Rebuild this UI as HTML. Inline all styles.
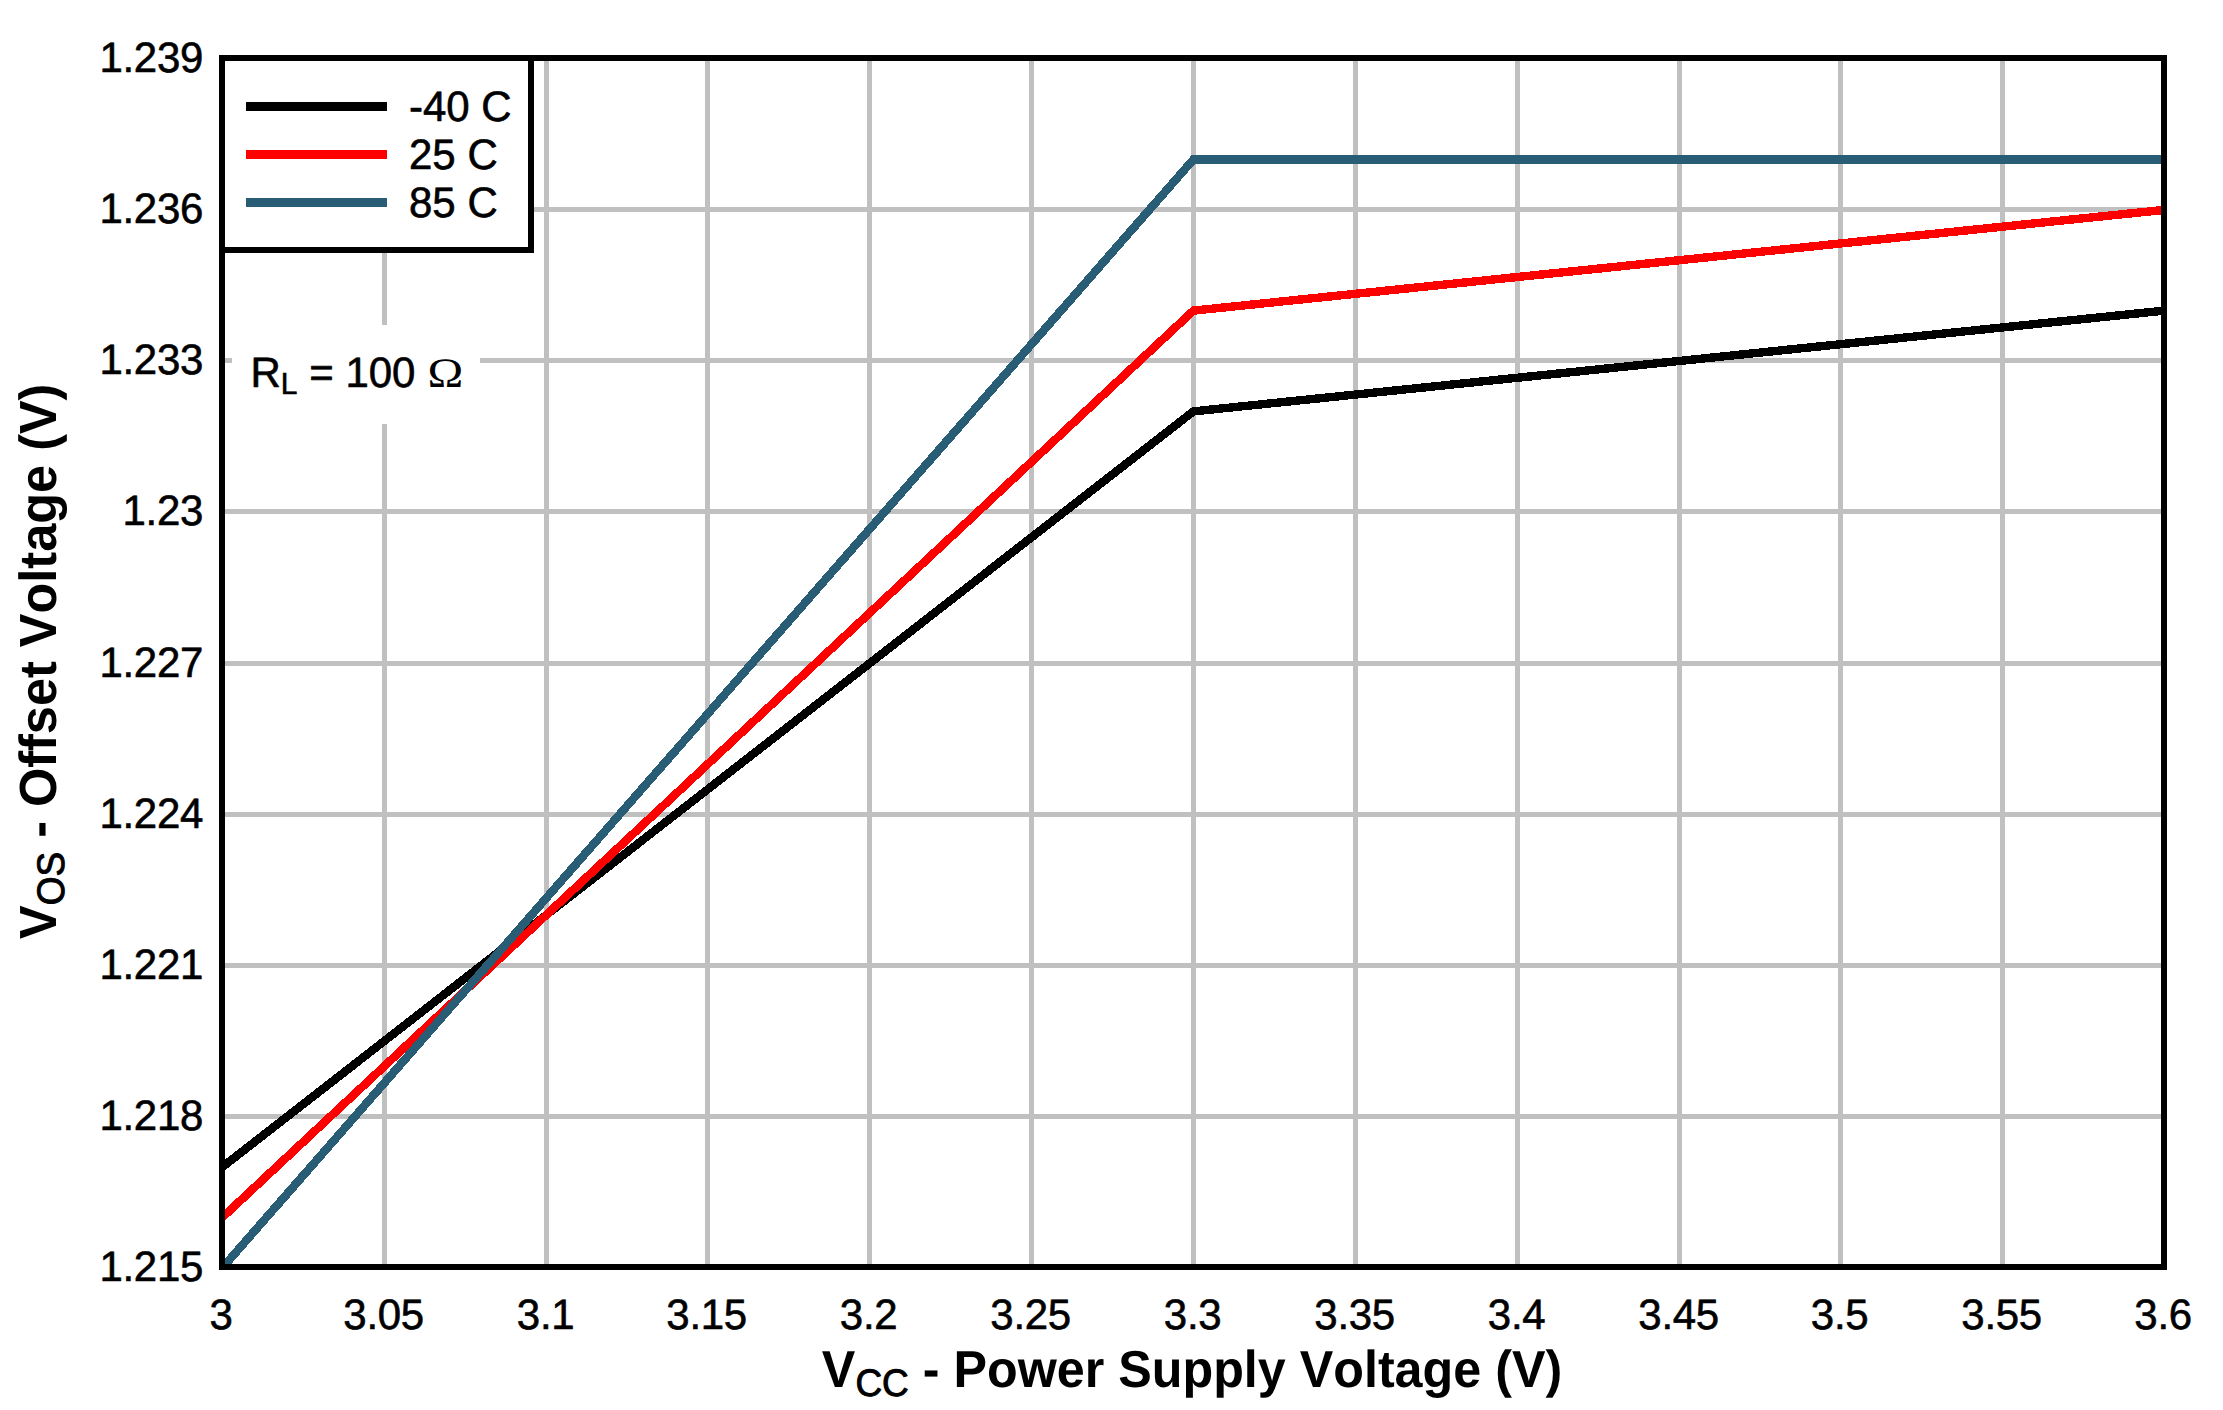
<!DOCTYPE html>
<html lang="en">
<head>
<meta charset="utf-8">
<title>VOS - Offset Voltage vs VCC - Power Supply Voltage</title>
<style>
html,body{margin:0;padding:0;background:#fff;}
body{width:2223px;height:1410px;overflow:hidden;}
svg{display:block;}
text{font-kerning:none;text-rendering:geometricPrecision;font-family:"Liberation Sans",sans-serif;fill:#000;}
.t{font-size:42px;stroke:#000;stroke-width:0.6px;stroke-linejoin:round;}
.b{font-size:50.25px;font-weight:bold;}
.sb{font-size:37px;font-weight:normal;stroke:#000;stroke-width:0.9px;stroke-linejoin:round;}
.k{letter-spacing:-0.3px;}
.by{font-size:50.48px;}
.ss{font-size:30px;}
.om{font-family:"Liberation Serif",serif;font-size:43px;stroke:none;}
</style>
</head>
<body>
<svg width="2223" height="1410" viewBox="0 0 2223 1410">
<rect x="0" y="0" width="2223" height="1410" fill="#ffffff"/>
<defs><clipPath id="plotclip"><rect x="225" y="61" width="1936" height="1203"/></clipPath></defs>
<g fill="#c0c0c0" shape-rendering="crispEdges">
<rect x="382" y="61" width="5" height="1203"/>
<rect x="544" y="61" width="5" height="1203"/>
<rect x="705" y="61" width="5" height="1203"/>
<rect x="867" y="61" width="5" height="1203"/>
<rect x="1029" y="61" width="5" height="1203"/>
<rect x="1191" y="61" width="5" height="1203"/>
<rect x="1353" y="61" width="5" height="1203"/>
<rect x="1515" y="61" width="5" height="1203"/>
<rect x="1677" y="61" width="5" height="1203"/>
<rect x="1838" y="61" width="5" height="1203"/>
<rect x="2000" y="61" width="5" height="1203"/>
<rect x="225" y="207" width="1936" height="5"/>
<rect x="225" y="358" width="1936" height="5"/>
<rect x="225" y="509" width="1936" height="5"/>
<rect x="225" y="661" width="1936" height="5"/>
<rect x="225" y="812" width="1936" height="5"/>
<rect x="225" y="963" width="1936" height="5"/>
<rect x="225" y="1114" width="1936" height="5"/>
</g>
<rect x="232" y="325" width="248" height="99" fill="#ffffff" shape-rendering="crispEdges"/>
<g clip-path="url(#plotclip)">
<polyline points="222.40,1167.00 1193.40,411.38 2164.40,310.63" fill="none" stroke="#000000" stroke-width="8.4" stroke-linejoin="miter" stroke-linecap="butt" shape-rendering="crispEdges"/>
<polyline points="222.40,1217.38 1193.40,310.63 2164.40,209.88" fill="none" stroke="#ff0000" stroke-width="8.4" stroke-linejoin="miter" stroke-linecap="butt" shape-rendering="crispEdges"/>
<polyline points="222.40,1267.75 1193.40,159.50 2164.40,159.50" fill="none" stroke="#295c75" stroke-width="8.4" stroke-linejoin="miter" stroke-linecap="butt" shape-rendering="crispEdges"/>
</g>
<rect x="222" y="58" width="1942" height="1209" fill="none" stroke="#000" stroke-width="6" shape-rendering="crispEdges"/>
<rect x="222" y="58" width="309" height="192" fill="#ffffff" stroke="#000" stroke-width="6" shape-rendering="crispEdges"/>
<g shape-rendering="crispEdges">
<rect x="246" y="102" width="141" height="9" fill="#000000"/>
<rect x="246" y="150" width="141" height="9" fill="#ff0000"/>
<rect x="246" y="198" width="141" height="9" fill="#295c75"/>
</g>
<text class="t" transform="translate(409.00,121.00) scale(1,1.014)">-40 C</text>
<text class="t" transform="translate(409.00,169.00) scale(1,1.014)">25 C</text>
<text class="t" transform="translate(409.00,217.00) scale(1,1.014)">85 C</text>
<text class="t" transform="translate(250.50,387.00) scale(1,1.014)">R<tspan class="ss" dy="6.7">L</tspan><tspan dy="-6.7"> = 100</tspan></text>
<text class="om" transform="translate(427.6,387) scale(1.12,0.975)">Ω</text>
<text class="t k" text-anchor="end" transform="translate(203.00,71.80) scale(1,1.014)">1.239</text>
<text class="t k" text-anchor="end" transform="translate(203.00,223.30) scale(1,1.014)">1.236</text>
<text class="t k" text-anchor="end" transform="translate(203.00,374.30) scale(1,1.014)">1.233</text>
<text class="t k" text-anchor="end" transform="translate(203.00,525.30) scale(1,1.014)">1.23</text>
<text class="t k" text-anchor="end" transform="translate(203.00,677.30) scale(1,1.014)">1.227</text>
<text class="t k" text-anchor="end" transform="translate(203.00,828.30) scale(1,1.014)">1.224</text>
<text class="t k" text-anchor="end" transform="translate(203.00,979.30) scale(1,1.014)">1.221</text>
<text class="t k" text-anchor="end" transform="translate(203.00,1130.30) scale(1,1.014)">1.218</text>
<text class="t k" text-anchor="end" transform="translate(203.00,1280.80) scale(1,1.014)">1.215</text>
<text class="t k" text-anchor="middle" transform="translate(221.10,1329.00) scale(1,1.014)">3</text>
<text class="t k" text-anchor="middle" transform="translate(383.60,1329.00) scale(1,1.014)">3.05</text>
<text class="t k" text-anchor="middle" transform="translate(545.60,1329.00) scale(1,1.014)">3.1</text>
<text class="t k" text-anchor="middle" transform="translate(706.60,1329.00) scale(1,1.014)">3.15</text>
<text class="t k" text-anchor="middle" transform="translate(868.60,1329.00) scale(1,1.014)">3.2</text>
<text class="t k" text-anchor="middle" transform="translate(1030.60,1329.00) scale(1,1.014)">3.25</text>
<text class="t k" text-anchor="middle" transform="translate(1192.60,1329.00) scale(1,1.014)">3.3</text>
<text class="t k" text-anchor="middle" transform="translate(1354.60,1329.00) scale(1,1.014)">3.35</text>
<text class="t k" text-anchor="middle" transform="translate(1516.60,1329.00) scale(1,1.014)">3.4</text>
<text class="t k" text-anchor="middle" transform="translate(1678.60,1329.00) scale(1,1.014)">3.45</text>
<text class="t k" text-anchor="middle" transform="translate(1839.60,1329.00) scale(1,1.014)">3.5</text>
<text class="t k" text-anchor="middle" transform="translate(2001.60,1329.00) scale(1,1.014)">3.55</text>
<text class="t k" text-anchor="middle" transform="translate(2163.10,1329.00) scale(1,1.014)">3.6</text>
<text class="b" text-anchor="middle" transform="translate(1192.00,1387.20) scale(1,1.035)">V<tspan class="sb" dy="8.2">CC</tspan><tspan dy="-8.2"> - Power Supply Voltage (V)</tspan></text>
<text class="b by" text-anchor="middle" transform="translate(56.30,661.30) rotate(-90) scale(1,1.035)">V<tspan class="sb" dy="7.7">OS</tspan><tspan dy="-7.7"> - Offset Voltage (V)</tspan></text>
</svg>
</body>
</html>
